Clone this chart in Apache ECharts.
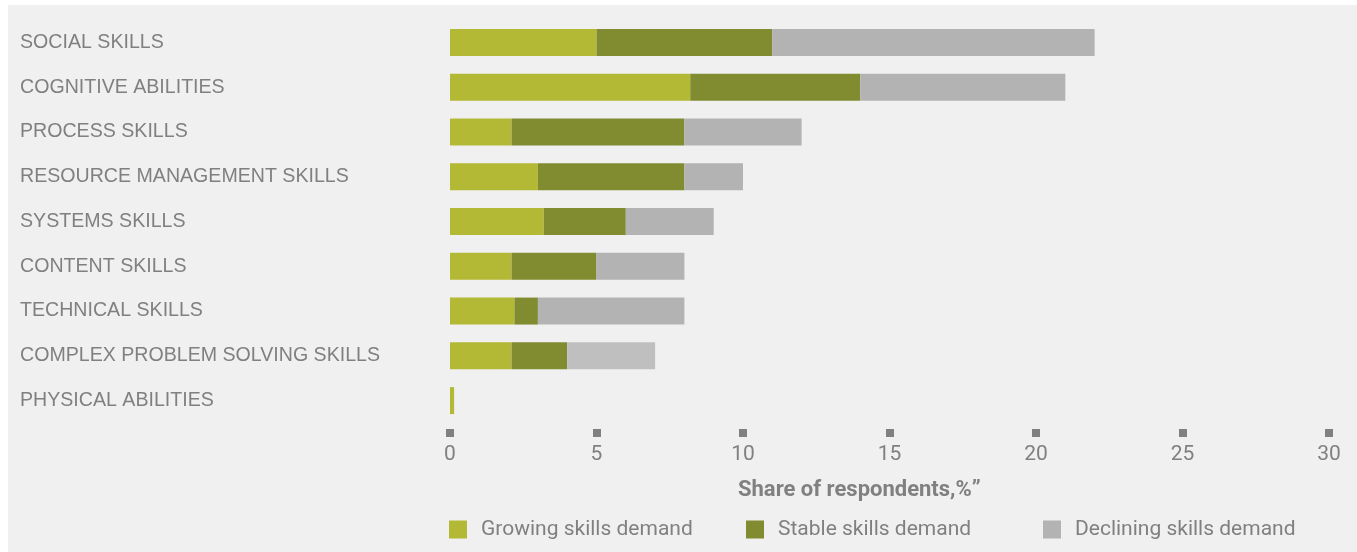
<!DOCTYPE html>
<html><head><meta charset="utf-8">
<script src="https://cdn.jsdelivr.net/npm/echarts@6/dist/echarts.min.js"></script>
<style>
html,body{margin:0;padding:0;background:#fff;width:1357px;height:552px;overflow:hidden;}
#c{position:absolute;left:8px;top:5px;width:1349px;height:547px;background:#f0f0f0;}
</style></head>
<body><div id="c"></div>
<script>
const categories = ["SOCIAL SKILLS","COGNITIVE ABILITIES","PROCESS SKILLS","RESOURCE MANAGEMENT SKILLS","SYSTEMS SKILLS","CONTENT SKILLS","TECHNICAL SKILLS","COMPLEX PROBLEM SOLVING SKILLS","PHYSICAL ABILITIES"];
const growing   = [5, 8.2, 2.1, 3, 3.2, 2.1, 2.2, 2.1, 0.14];
const stable    = [6, 5.8, 5.9, 5, 2.8, 2.9, 0.8, 1.9, 0];
const declining = [11, 7, 4, 2, 3, 3, 5, 3, 0];
const seriesNames = ["Growing skills demand","Stable skills demand","Declining skills demand"];
const xTicks = [0, 5, 10, 15, 20, 25, 30];
const axisTitle = "Share of respondents,%\u201d";

const colors = ['#b3b935', '#818b30', '#b3b3b3'];
const txt = '#808080';
const chart = echarts.init(document.getElementById('c'), null, {renderer:'canvas'});
const mk = (name, vals, color) => ({
  name, type:'bar', stack:'s', barWidth:27, data: vals.map((v,i)=> (name===seriesNames[2] && i===7) ? {value:v, itemStyle:{color:'#bfbfbf'}} : v),
  itemStyle:{color}, emphasis:{disabled:true}, animation:false
});
const legendBase = (name, left) => ({
  data:[name], left, top:509, icon:'rect', itemWidth:18, itemHeight:18, itemGap:0,
  textStyle:{color:txt, fontSize:21, fontFamily:'Roboto', padding:[0,0,0,9]}, selectedMode:false
});
chart.setOption({
  animation:false,
  backgroundColor:'#f0f0f0',
  title:{text:axisTitle, left:730, top:474, padding:0,
    textStyle:{color:txt, fontSize:22, fontWeight:'bold', fontFamily:'Roboto'}},
  grid:{left:442, width:879, top:15, height:403},
  xAxis:{type:'value', min:xTicks[0], max:xTicks[xTicks.length-1], interval:5, offset:6,
    axisLine:{show:false}, splitLine:{show:false},
    axisTick:{show:true, length:8, lineStyle:{color:'#808080', width:8}},
    axisLabel:{color:txt, fontSize:21, fontFamily:'Roboto', margin:15}},
  yAxis:{type:'category', data:categories, inverse:true,
    axisLine:{show:false}, axisTick:{show:false}, splitLine:{show:false},
    axisLabel:{color:txt, fontSize:19.6, fontFamily:'Liberation Sans', align:'left', margin:430}},
  legend:[legendBase(seriesNames[0],436), legendBase(seriesNames[1],733), legendBase(seriesNames[2],1030)],
  series:[mk(seriesNames[0],growing,colors[0]), mk(seriesNames[1],stable,colors[1]), mk(seriesNames[2],declining,colors[2])]
});
</script></body></html>
